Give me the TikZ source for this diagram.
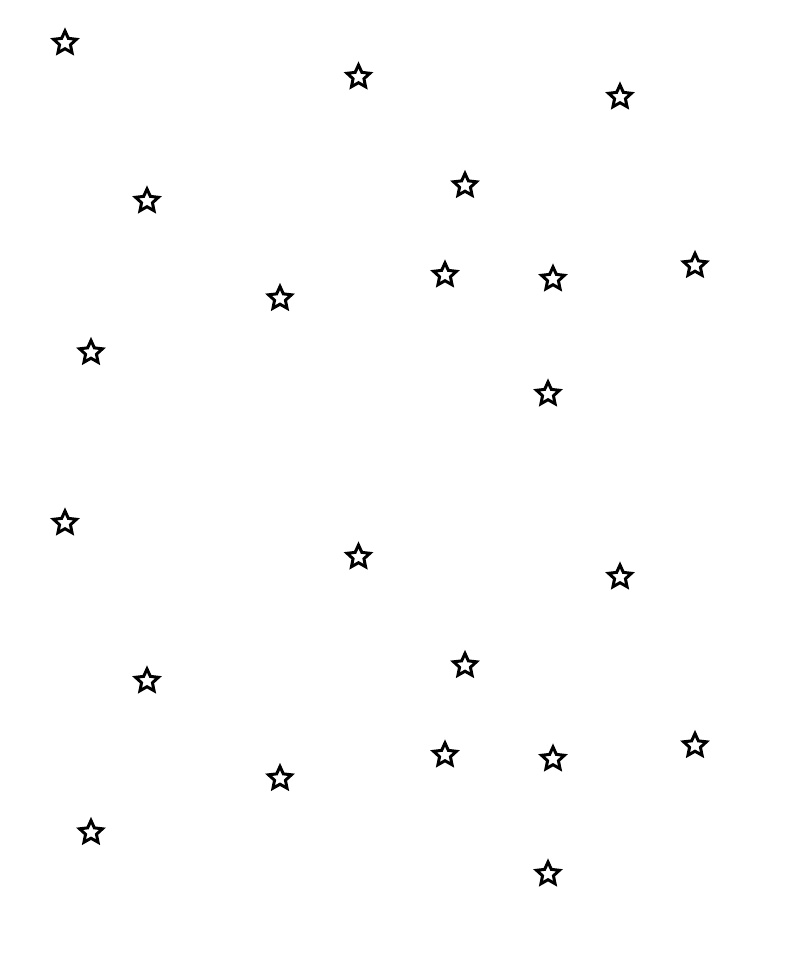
\documentclass[tikz,border=0pt]{standalone}
\usetikzlibrary{shapes.geometric}
\tikzset{
  starmark/.style={star, star points=5, star point ratio=2.1, minimum size=24pt,
    inner sep=0pt, outer sep=0pt, draw=black, line width=3pt, fill=white},
}
\begin{document}
\begin{tikzpicture}[x=1pt,y=-1pt]
\useasboundingbox[fill=white] (0,0) rectangle (800,960);
\foreach \dy/\s in {0/a,480/b}{
  \node[starmark] (\s1)  at (65,43+\dy) {};
  \node[starmark] (\s2)  at (358.5,77+\dy) {};
  \node[starmark] (\s3)  at (620,97+\dy) {};
  \node[starmark] (\s4)  at (147,201+\dy) {};
  \node[starmark] (\s5)  at (465,185.5+\dy) {};
  \node[starmark] (\s6)  at (280,298.5+\dy) {};
  \node[starmark] (\s7)  at (445,275+\dy) {};
  \node[starmark] (\s8)  at (553,279+\dy) {};
  \node[starmark] (\s9)  at (695,265.5+\dy) {};
  \node[starmark] (\s10) at (91,352.5+\dy) {};
  \node[starmark] (\s11) at (548,394+\dy) {};
}
\end{tikzpicture}
\end{document}
